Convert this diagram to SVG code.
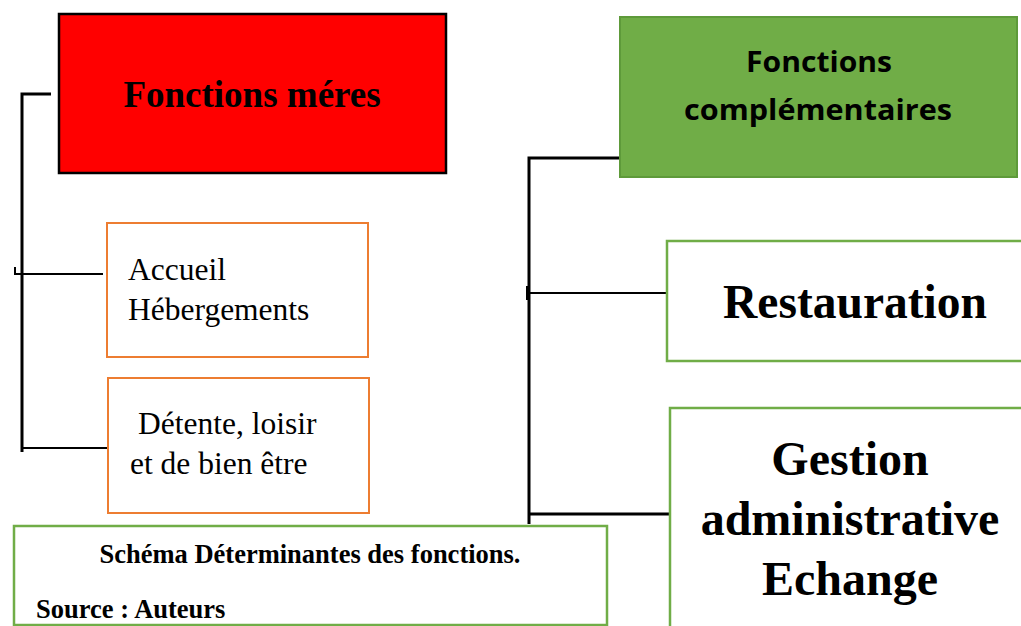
<svg xmlns="http://www.w3.org/2000/svg" width="1021" height="626" viewBox="0 0 1021 626">
<style>
.conn{stroke:#000;fill:none;stroke-width:3}
.thin{stroke:#000;fill:none;stroke-width:2}
.orange{fill:#fff;stroke:#ED7D31;stroke-width:2}
.green{fill:#fff;stroke:#70AD47;stroke-width:2.5}
.serif{font-family:"Liberation Serif","Times New Roman",serif;fill:#000}
.bold{font-weight:bold}
.sans{font-family:"Open Sans","Liberation Sans",sans-serif;font-weight:bold;fill:#000}
</style>
<defs>
<clipPath id="capclip"><rect x="14" y="526" width="594" height="94"/></clipPath>
</defs>
<rect width="1021" height="626" fill="#fff"/>
<g id="connectors">
<path class="conn" d="M51 94 H22 V452"/>
<path class="thin" d="M15 274 H103 M15 267 V275"/>
<path class="thin" d="M21 448 H117"/>
<path class="conn" d="M620 158 H529 V524"/>
<path class="thin" d="M526 293 H666 M527 286 V300"/>
<path class="conn" d="M529 514 H670"/>
</g>
<g id="fonctions-meres">
<rect x="59" y="14" width="387" height="159" fill="#FF0000" stroke="#000" stroke-width="2.5"/>
<text class="serif bold" x="252" y="107" font-size="37" text-anchor="middle">Fonctions méres</text>
</g>
<g id="accueil">
<rect class="orange" x="107" y="223" width="261" height="134"/>
<text class="serif" x="128" y="280" font-size="31.5">Accueil</text>
<text class="serif" x="128" y="320" font-size="31.5">Hébergements</text>
</g>
<g id="detente">
<rect class="orange" x="108" y="378" width="261" height="135"/>
<text class="serif" x="138" y="434" font-size="31.5">Détente, loisir</text>
<text class="serif" x="130" y="474" font-size="31.5">et de bien être</text>
</g>
<g id="fonctions-complementaires">
<rect x="620" y="17" width="397" height="160" fill="#70AD47" stroke="#5E9A3A" stroke-width="2"/>
<text class="sans" x="819" y="72" font-size="29" text-anchor="middle" textLength="146" lengthAdjust="spacingAndGlyphs">Fonctions</text>
<text class="sans" x="818" y="120" font-size="29" text-anchor="middle" textLength="268" lengthAdjust="spacingAndGlyphs">complémentaires</text>
</g>
<g id="restauration">
<rect class="green" x="667" y="241" width="370" height="120"/>
<text class="serif bold" x="855" y="318" font-size="47.5" text-anchor="middle">Restauration</text>
</g>
<g id="gestion">
<rect class="green" x="670" y="408" width="370" height="240"/>
<text class="serif bold" x="850" y="475" font-size="48" text-anchor="middle">Gestion</text>
<text class="serif bold" x="850" y="535" font-size="48" text-anchor="middle">administrative</text>
<text class="serif bold" x="850" y="595" font-size="48" text-anchor="middle">Echange</text>
</g>
<g id="caption">
<rect class="green" x="14" y="526" width="593" height="99"/>
<text class="serif bold" x="310" y="563" font-size="26.5" text-anchor="middle">Schéma Déterminantes des fonctions.</text>
<text class="serif bold" x="36" y="618" font-size="26.5" clip-path="url(#capclip)">Source : Auteurs</text>
</g>
</svg>
